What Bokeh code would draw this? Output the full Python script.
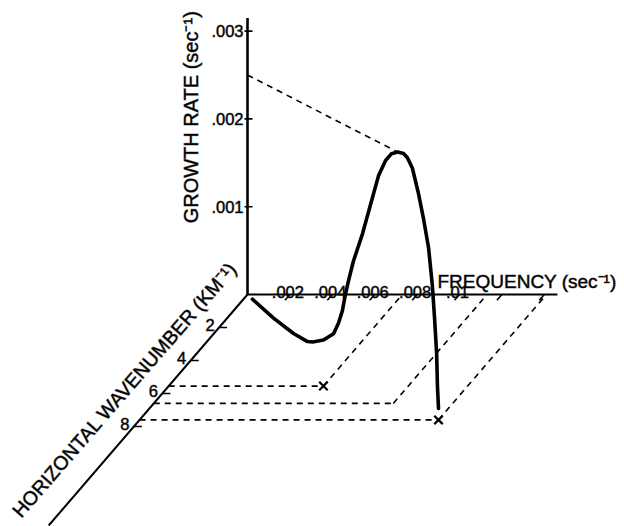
import math
import numpy as np
from bokeh.plotting import figure
from bokeh.models import Range1d
from bokeh.embed import file_html
from bokeh.resources import INLINE
from bokeh.core.properties import value

# Growth-rate curve traced through frequency / horizontal-wavenumber space
curve_freq = [0.00028, 0.00151, 0.00272, 0.00360, 0.00393, 0.00465, 0.00533,
              0.00567, 0.00595, 0.00617, 0.00638, 0.00674, 0.00741, 0.00817,
              0.00864, 0.00920, 0.00970, 0.01021, 0.01073, 0.01108, 0.01153,
              0.01209, 0.01257, 0.01307, 0.01347, 0.01368, 0.01389, 0.01399,
              0.01410]
curve_wavenumber = [0.07, 0.42, 0.82, 1.15, 1.28, 1.59, 1.90, 2.06, 2.20, 2.31,
                    2.41, 2.60, 2.96, 3.40, 3.68, 4.02, 4.34, 4.67, 5.03, 5.28,
                    5.60, 6.01, 6.38, 6.76, 7.09, 7.25, 7.42, 7.51, 7.60]
curve_growth = [-0.00004, -0.00019, -0.00029, -0.00032, -0.00030, -0.00022,
                -0.00009, 0.00006, 0.00023, 0.00044, 0.00061, 0.00087, 0.00125,
                0.00174, 0.00204, 0.00228, 0.00242, 0.00250, 0.00255, 0.00255,
                0.00249, 0.00228, 0.00207, 0.00180, 0.00143, 0.00109, 0.00073,
                0.00037, 0.00013]

# Maximum growth rate level and where the curve reaches it
peak_freq = 0.01021
peak_wavenumber = 4.67
peak_growth = 0.0025

# Points on the frequency-wavenumber floor
floor_freq = [0.0073, 0.0113, 0.0141]
floor_wavenumber = [5.55, 6.6, 7.6]
floor_marked = [True, False, True]

# Axis extents and ticks
growth_max = 0.00315
freq_max = 0.01462
wavenumber_max = 14
growth_ticks = [0.001, 0.002, 0.003]
growth_tick_labels = [".001", ".002", ".003"]
freq_ticks = [0.002, 0.004, 0.006, 0.008, 0.010, 0.012, 0.014]
freq_tick_labels = [".002", ".004", ".006", ".008", ".01", "", ""]
wavenumber_ticks = [2, 4, 6, 8]
wavenumber_tick_labels = ["2", "4", "6", "8"]

# Oblique projection of (frequency, wavenumber, growth) onto the page
ORIGIN = (247.0, 294.0)
FREQ_STEP = 21200.0          # px per s^-1 along the frequency axis
K_STEP = (-14.2, 16.5)       # px per km^-1 along the receding wavenumber axis
GROWTH_STEP = 87800.0        # px per s^-1 up the growth axis


def project(f, k, g):
    f = np.asarray(f, dtype=float)
    k = np.asarray(k, dtype=float)
    g = np.asarray(g, dtype=float)
    x = ORIGIN[0] + f * FREQ_STEP + k * K_STEP[0]
    y = ORIGIN[1] + k * K_STEP[1] - g * GROWTH_STEP
    return x, y


W, H = 624, 526
p = figure(width=W, height=H, x_range=Range1d(0, W), y_range=Range1d(H, 0),
           x_axis_type=None, y_axis_type=None, toolbar_location=None,
           output_backend="svg", min_border=0)
p.outline_line_color = None
p.background_fill_color = "white"
p.border_fill_color = "white"

FONT = value("Liberation Sans")
INK = "black"
TICK_FONT = "16.5px"
# lettering gets a faint outline for a slightly heavier, inked look
TEXT_STYLE = dict(text_font=FONT, text_color=INK,
                  text_outline_color="rgba(0,0,0,0.45)")

# --- axes ---
ax, ay = project([0, 0], [0, 0], [0, growth_max])
p.line(ax, ay, line_color=INK, line_width=2.6)
ax, ay = project([0, freq_max], [0, 0], [0, 0])
p.line(ax, ay, line_color=INK, line_width=2)
ax, ay = project([0, 0], [0, wavenumber_max], [0, 0])
p.line(ax, ay, line_color=INK, line_width=2)

# growth ticks and labels
gx, gy = project(np.zeros(len(growth_ticks)), np.zeros(len(growth_ticks)), growth_ticks)
p.segment(x0=gx - 3, y0=gy, x1=gx + 5, y1=gy, line_color=INK, line_width=1.6)
p.text(x=gx - 4, y=gy, text=growth_tick_labels, text_font_size=TICK_FONT,
       text_align="right", text_baseline="middle", **TEXT_STYLE)

# frequency ticks (slanted along the receding axis) and labels
fx0, fy0 = project(freq_ticks, np.zeros(len(freq_ticks)), np.zeros(len(freq_ticks)))
fx1, fy1 = project(freq_ticks, np.full(len(freq_ticks), 0.35), np.zeros(len(freq_ticks)))
p.segment(x0=fx0, y0=fy0, x1=fx1, y1=fy1, line_color=INK, line_width=1.6)
p.text(x=fx0 - 2, y=fy0 - 3, text=freq_tick_labels, text_font_size=TICK_FONT,
       text_align="center", text_baseline="alphabetic", **TEXT_STYLE)

# wavenumber ticks and labels
wx, wy = project(np.zeros(len(wavenumber_ticks)), wavenumber_ticks,
                 np.zeros(len(wavenumber_ticks)))
p.segment(x0=wx, y0=wy, x1=wx + 8, y1=wy, line_color=INK, line_width=1.6)
p.text(x=wx - 9, y=wy - 3, text=wavenumber_tick_labels, text_font_size=TICK_FONT,
       text_align="center", text_baseline="middle", **TEXT_STYLE)

# --- dashed guide lines ---
dash = "6 5"
lx, ly = project([0, peak_freq], [0, peak_wavenumber],
                 [peak_growth, peak_growth])
p.line(lx, ly, line_color=INK, line_width=1.6, line_dash=dash)

xs, ys = [], []
for f, k in zip(floor_freq, floor_wavenumber):
    hx, hy = project([0, f], [k, k], [0, 0])
    xs.append(list(hx)); ys.append(list(hy))
    ox, oy = project([f, f], [k, 0], [0, 0])
    xs.append(list(ox)); ys.append(list(oy))
p.multi_line(xs, ys, line_color=INK, line_width=1.6, line_dash=dash)

mf = [f for f, m in zip(floor_freq, floor_marked) if m]
mk = [k for k, m in zip(floor_wavenumber, floor_marked) if m]
mx, my = project(mf, mk, np.zeros(len(mf)))
p.scatter(mx, my, marker="x", size=12, line_color=INK, line_width=2.2)

# --- growth-rate curve ---
cx, cy = project(curve_freq, curve_wavenumber, curve_growth)
p.line(cx, cy, line_color=INK, line_width=3.6, line_join="round", line_cap="round")

# --- axis titles ---
SUP = "\u207b\u00b9"
p.text(x=[190], y=[114], text=["GROWTH RATE  (sec" + SUP + ")"],
       text_font_size="20px", text_align="center", text_baseline="middle",
       angle=math.pi / 2, **TEXT_STYLE)
p.text(x=[437], y=[281], text=["FREQUENCY (sec" + SUP + ")"],
       text_font_size="19px", text_align="left", text_baseline="alphabetic",
       **TEXT_STYLE)
p.text(x=[124], y=[389], text=["HORIZONTAL WAVENUMBER (KM" + SUP + ")"],
       text_font_size="19.5px", text_align="center", text_baseline="middle",
       angle=math.radians(49), **TEXT_STYLE)

open("out.html", "w").write(file_html(p, INLINE))
